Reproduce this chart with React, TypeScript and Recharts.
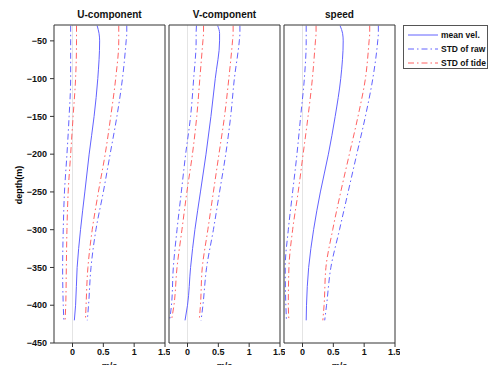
import { LineChart, Line, XAxis, YAxis, ReferenceLine } from 'recharts';

const depths = [-30, -40, -50, -100, -150, -200, -250, -300, -350, -400, -420];

const uMean = [0.40, 0.43, 0.44, 0.41, 0.35, 0.27, 0.20, 0.13, 0.075, 0.05, 0.03];
const uRawLo = [-0.03, -0.03, -0.03, -0.03, -0.055, -0.09, -0.13, -0.15, -0.16, -0.15, -0.14];
const uRawHi = [0.88, 0.88, 0.87, 0.81, 0.72, 0.61, 0.50, 0.38, 0.30, 0.26, 0.24];
const uTideLo = [0.065, 0.065, 0.065, 0.05, 0.01, -0.03, -0.07, -0.09, -0.10, -0.11, -0.12];
const uTideHi = [0.75, 0.75, 0.75, 0.70, 0.62, 0.53, 0.42, 0.32, 0.25, 0.22, 0.21];

const vMean = [0.49, 0.52, 0.52, 0.45, 0.38, 0.30, 0.21, 0.12, 0.05, 0.0, -0.04];
const vRawLo = [0.145, 0.14, 0.14, 0.10, 0.05, -0.03, -0.10, -0.17, -0.23, -0.26, -0.29];
const vRawHi = [0.85, 0.85, 0.84, 0.76, 0.70, 0.62, 0.52, 0.42, 0.31, 0.25, 0.22];
const vTideLo = [0.26, 0.26, 0.25, 0.20, 0.15, 0.08, -0.01, -0.09, -0.17, -0.22, -0.26];
const vTideHi = [0.74, 0.74, 0.73, 0.67, 0.60, 0.51, 0.42, 0.33, 0.24, 0.21, 0.19];

const sMean = [0.61, 0.65, 0.66, 0.62, 0.53, 0.42, 0.29, 0.18, 0.10, 0.065, 0.06];
const sRawLo = [0.06, 0.06, 0.06, 0.03, -0.03, -0.09, -0.16, -0.23, -0.28, -0.27, -0.26];
const sRawHi = [1.23, 1.23, 1.22, 1.14, 1.02, 0.88, 0.74, 0.60, 0.46, 0.39, 0.36];
const sTideLo = [0.22, 0.22, 0.21, 0.16, 0.09, 0.01, -0.07, -0.16, -0.22, -0.23, -0.22];
const sTideHi = [1.09, 1.09, 1.08, 1.02, 0.90, 0.76, 0.62, 0.49, 0.38, 0.35, 0.33];

const xTicks = [0, 0.5, 1, 1.5];
const yTicks = [-450, -400, -350, -300, -250, -200, -150, -100, -50];

const BLUE = '#6262ff';
const RED = '#ff6262';
const DASHDOT = '6 3 1.5 3';
const FONT = '"Liberation Sans", Arial, sans-serif';
const tickStyle = { fontSize: 9, fontWeight: 700, fill: '#111', fontFamily: FONT };
const fmt = (v: number) => String(v).replace('-', '\u2212');

function build(mean: number[], rawLo: number[], rawHi: number[], tideLo: number[], tideHi: number[]) {
  return depths.map((d, i) => ({
    depth: d, mean: mean[i], rawLo: rawLo[i], rawHi: rawHi[i], tideLo: tideLo[i], tideHi: tideHi[i],
  }));
}

function Panel({ title, data, left, first }: { title: string; data: any[]; left: number; first?: boolean }) {
  const yw = first ? 54 : 5;
  const width = yw + 111 + 5;
  return (
    <div style={{ position: 'absolute', left: left - yw, top: 0 }}>
      <LineChart width={width} height={375} data={data} layout="vertical"
        margin={{ top: 20, right: 0, bottom: 12, left: 0 }}>
        <XAxis xAxisId="b" type="number" orientation="bottom" domain={[-0.3, 1.5]} ticks={xTicks}
          allowDataOverflow height={20} tick={tickStyle} tickFormatter={fmt} tickSize={4} tickMargin={2}
          stroke="#333" label={{ value: 'm/s', position: 'bottom', offset: 0, style: tickStyle }} />
        <XAxis xAxisId="t" type="number" orientation="top" domain={[-0.3, 1.5]} ticks={xTicks}
          allowDataOverflow height={5} tick={false} tickSize={4} stroke="#333"
          label={{ value: title, position: 'top', offset: 2, style: { ...tickStyle, fontSize: 10 } }} />
        <YAxis yAxisId="l" type="number" dataKey="depth" orientation="left" domain={[-450, -29]}
          ticks={yTicks} allowDataOverflow reversed width={yw} tick={first ? tickStyle : false}
          tickFormatter={fmt} tickSize={4} tickMargin={3} stroke="#333" />
        <YAxis yAxisId="r" type="number" orientation="right" domain={[-450, -29]} ticks={yTicks}
          allowDataOverflow reversed width={5} tick={false} tickSize={4} stroke="#333" />
        <ReferenceLine xAxisId="b" yAxisId="l" x={0} stroke="#e4e4e4" />
        <Line xAxisId="b" yAxisId="l" type="monotone" dataKey="rawLo" stroke={BLUE} strokeWidth={1}
          strokeDasharray={DASHDOT} dot={false} isAnimationActive={false} />
        <Line xAxisId="b" yAxisId="l" type="monotone" dataKey="rawHi" stroke={BLUE} strokeWidth={1}
          strokeDasharray={DASHDOT} dot={false} isAnimationActive={false} />
        <Line xAxisId="b" yAxisId="l" type="monotone" dataKey="tideLo" stroke={RED} strokeWidth={1}
          strokeDasharray={DASHDOT} dot={false} isAnimationActive={false} />
        <Line xAxisId="b" yAxisId="l" type="monotone" dataKey="tideHi" stroke={RED} strokeWidth={1}
          strokeDasharray={DASHDOT} dot={false} isAnimationActive={false} />
        <Line xAxisId="b" yAxisId="l" type="monotone" dataKey="mean" stroke={BLUE} strokeWidth={1}
          dot={false} isAnimationActive={false} />
      </LineChart>
    </div>
  );
}

function LegendBox() {
  const rows = [
    { label: 'mean vel.', color: BLUE, dash: undefined },
    { label: 'STD of raw', color: BLUE, dash: DASHDOT },
    { label: 'STD of tide', color: RED, dash: DASHDOT },
  ];
  return (
    <svg style={{ position: 'absolute', left: 403, top: 25 }} width={86} height={45}>
      <rect x={0.5} y={0.5} width={84} height={43} fill="#fff" stroke="#555" />
      {rows.map((r, i) => (
        <g key={r.label}>
          <line x1={5} x2={35} y1={10 + i * 14} y2={10 + i * 14} stroke={r.color} strokeDasharray={r.dash} />
          <text x={38} y={13 + i * 14} style={{ ...tickStyle, fontSize: 8.5 }}>{r.label}</text>
        </g>
      ))}
    </svg>
  );
}

export default function App() {
  return (
    <div style={{ position: 'absolute', left: 0, top: 0, width: 489, height: 365, overflow: 'hidden', background: '#fff' }}>
      <Panel title="U-component" data={build(uMean, uRawLo, uRawHi, uTideLo, uTideHi)} left={54} first />
      <Panel title="V-component" data={build(vMean, vRawLo, vRawHi, vTideLo, vTideHi)} left={169} />
      <Panel title="speed" data={build(sMean, sRawLo, sRawHi, sTideLo, sTideHi)} left={284} />
      <div style={{ position: 'absolute', left: 19, top: 185, transform: 'translate(-50%, -50%) rotate(-90deg)',
        fontFamily: FONT, fontWeight: 700, fontSize: 9, whiteSpace: 'nowrap' }}>depth(m)</div>
      <LegendBox />
    </div>
  );
}
